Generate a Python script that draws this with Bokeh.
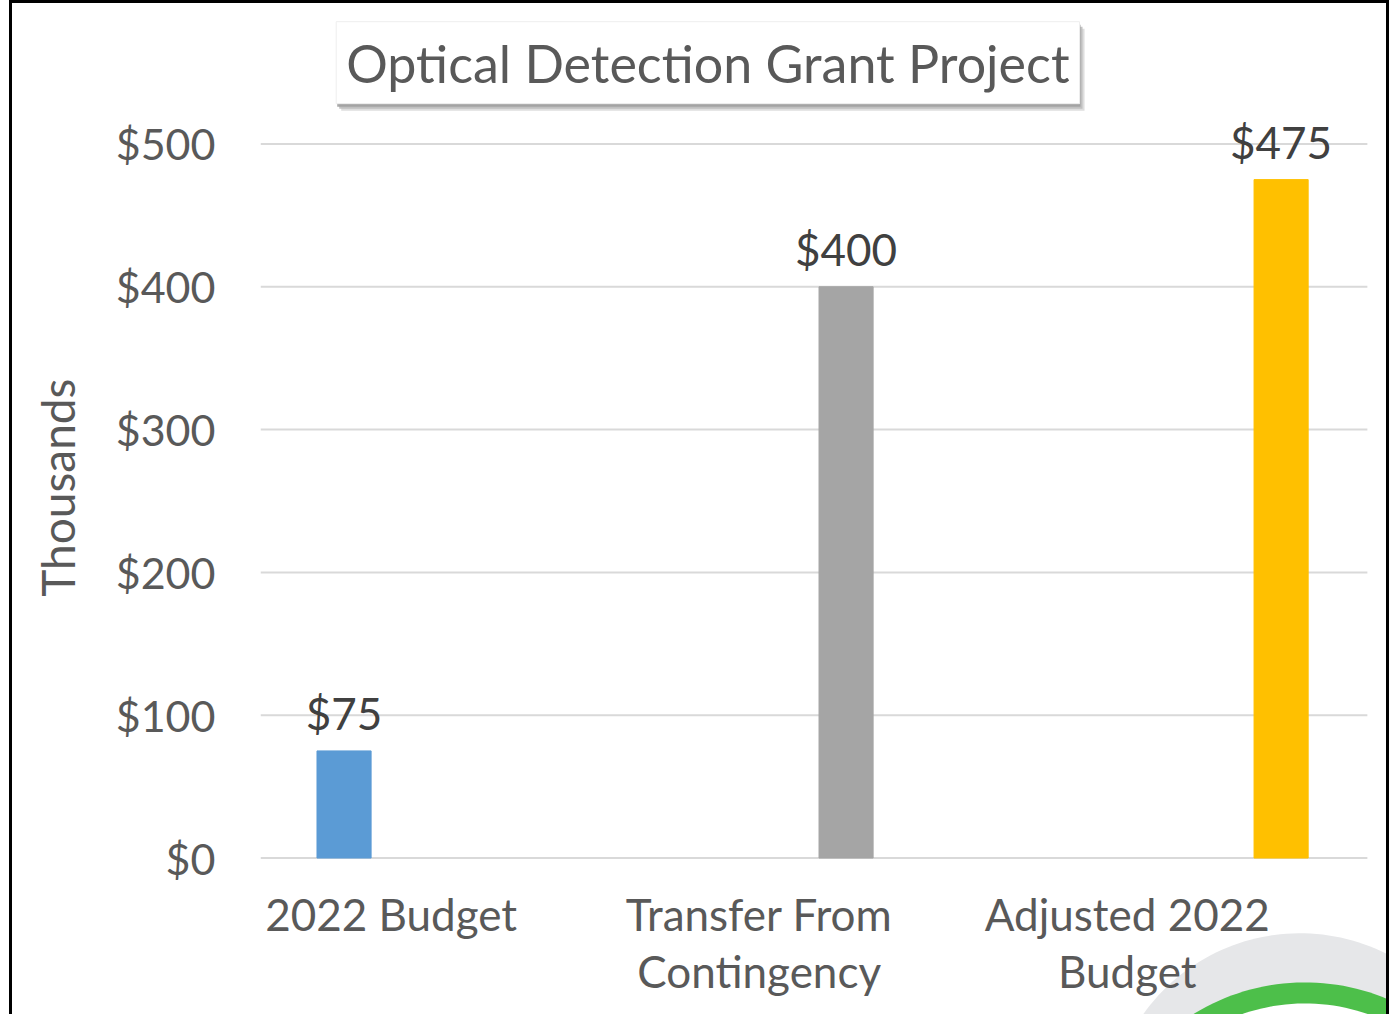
import numpy as np
from bokeh.plotting import figure
from bokeh.layouts import row
from bokeh.models import Range1d, FixedTicker, Label, ColumnDataSource, Spacer
from bokeh.embed import file_html
from bokeh.resources import INLINE
from bokeh.core.properties import value

# ---- data ----
categories = ["2022 Budget", "Transfer From\nContingency", "Adjusted 2022\nBudget"]
values = [75, 400, 475]
value_labels = ["$75", "$400", "$475"]
series_slot = [0, 2, 3]          # which series slot (of 4) each bar occupies
n_series = 4
colors = ["#5B9BD5", "#A5A5A5", "#FFC000"]
y_ticks = [0, 100, 200, 300, 400, 500]
y_tick_labels = ["$0", "$100", "$200", "$300", "$400", "$500"]
title_text = "Optical Detection Grant Project"
y_axis_label = "Thousands"

FONT = "Lato"
GRAY_TXT = "#595959"
DARK_TXT = "#404040"
GRID = "#D9D9D9"

# ---- page geometry (px, as observed in the rendered picture) ----
HOST_W, HOST_H = 1380, 1014
BW = 3
CANVAS_L, CANVAS_T = 13, 3
CANVAS_W, CANVAS_H = HOST_W - 2 * BW, HOST_H - BW
FRAME_L = 261                               # page x of value axis / frame left
GRID_R = 1362                               # page x where gridlines end
BASE_Y, TOP_Y = 855, 143                    # page y of $0 and $500
PX_PER_CAT = 366.1
PX_PER_UNIT = (BASE_Y - TOP_Y) / 500
N_CAT = len(categories)

def px2x(px):
    return (np.asarray(px) - FRAME_L) / PX_PER_CAT
def py2y(py):
    return (BASE_Y - np.asarray(py)) / PX_PER_UNIT

x_end = float(px2x(CANVAS_L + CANVAS_W))
y_end = float(py2y(CANVAS_T))
y_start = float(py2y(CANVAS_T + CANVAS_H))

slot_w = 0.182
bar_w = 0.147
xs = [i + 0.5 + (s - (n_series - 1) / 2) * slot_w for i, s in enumerate(series_slot)]
src = ColumnDataSource(dict(x=xs, top=values, color=colors, label=value_labels))

p = figure(width=HOST_W, height=HOST_H, output_backend="svg", toolbar_location=None,
           x_range=Range1d(0, x_end), y_range=Range1d(y_start, y_end),
           x_axis_location=None,
           min_border_left=FRAME_L - CANVAS_L, min_border_right=0,
           min_border_top=0, min_border_bottom=0)
p.styles = {"border-left": "3px solid black", "border-top": "3px solid black",
            "border-right": "3px solid black"}
p.outline_line_color = None
p.background_fill_color = "white"
p.border_fill_color = "white"
p.xgrid.visible = False
p.ygrid.visible = False

# logo (decorative) in lower right
t = np.linspace(0, 2 * np.pi, 200)
for (cx, cy, r), col in [((1295, 1121, 191), "#E6E7E9"), ((1300, 1190, 211), "#4DBF4A"),
                         ((1300, 1190, 190), "#FFFFFF"), ((1295, 1190, 175), "#2B7BC0")]:
    p.patch(x=list(px2x(cx + r * np.cos(t))), y=list(py2y(cy + r * np.sin(t))),
            fill_color=col, line_color=None)

# gridlines (incl. baseline)
p.segment(x0=[0] * len(y_ticks), x1=[float(px2x(GRID_R))] * len(y_ticks), y0=y_ticks, y1=y_ticks,
          line_color=GRID, line_width=2)

p.vbar(x="x", top="top", width=bar_w, bottom=0, color="color", source=src)
p.text(x="x", y="top", text="label", source=src, text_align="center",
       text_baseline="bottom", y_offset=-12, text_font=value(FONT),
       text_font_size="44px", text_color=DARK_TXT)

# category labels
lab_x = [i + 0.5 - 0.145 for i in range(N_CAT)]
p.text(x=lab_x, y=[float(py2y(885))] * N_CAT, text=categories, text_align="center",
       text_baseline="top", text_font=value(FONT), text_font_size="44px",
       text_color=GRAY_TXT, text_line_height=1.1)

# value axis
p.yaxis.ticker = FixedTicker(ticks=y_ticks)
p.yaxis.major_label_overrides = {tk: l for tk, l in zip(y_ticks, y_tick_labels)}
p.yaxis.axis_line_color = None
p.yaxis.major_tick_line_color = None
p.yaxis.minor_tick_line_color = None
p.yaxis.major_tick_out = 0
p.yaxis.major_tick_in = 0
p.yaxis.major_label_standoff = 45
p.yaxis.major_label_text_font = FONT
p.yaxis.major_label_text_font_size = "43px"
p.yaxis.major_label_text_color = GRAY_TXT
p.yaxis.axis_label = "\u00a0\u00a0\u00a0\u00a0" + y_axis_label
p.yaxis.axis_label_standoff = 28
p.yaxis.axis_label_text_font = FONT
p.yaxis.axis_label_text_font_size = "46px"
p.yaxis.axis_label_text_font_style = "normal"
p.yaxis.axis_label_text_color = GRAY_TXT

# title box with soft shadow
tx, ty = float(px2x(706)), float(py2y(62))
for off, col, alpha in [(7, "#DADADA", 0.9), (5, "#BDBDBD", 0.9), (3, "#A0A0A0", 0.9)]:
    p.add_layout(Label(x=tx, y=ty, text=title_text, text_align="center", text_baseline="middle",
                       text_font=FONT, text_font_size="52px", text_color=col,
                       background_fill_color=col, background_fill_alpha=alpha,
                       x_offset=off - 2, y_offset=-off, padding=10))
p.add_layout(Label(x=tx, y=ty, text=title_text, text_align="center", text_baseline="middle",
                   text_font=FONT, text_font_size="52px", text_color=GRAY_TXT,
                   background_fill_color="white", border_line_color="#EEEEEE",
                   padding=10))

layout = row(Spacer(width=9, height=HOST_H), p)
open("out.html", "w").write(file_html(layout, INLINE))
